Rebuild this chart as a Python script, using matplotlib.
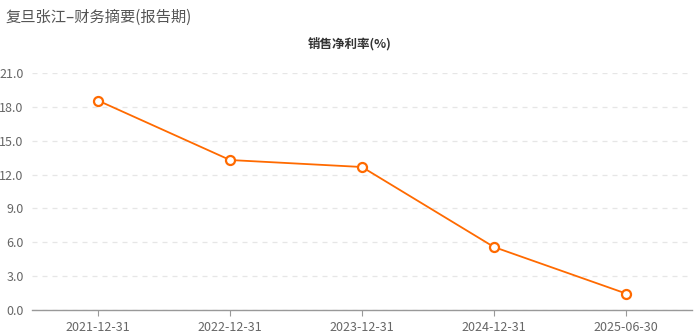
import matplotlib
matplotlib.use("Agg")
import matplotlib.pyplot as plt
from matplotlib.ticker import MultipleLocator, FormatStrFormatter

plt.rcParams['font.family'] = ['Noto Sans CJK SC', 'DejaVu Sans']

periods = ["2021-12-31", "2022-12-31", "2023-12-31", "2024-12-31", "2025-06-30"]
net_margin = [18.56, 13.29, 12.67, 5.58, 1.46]

fig = plt.figure(figsize=(7.0, 3.36), dpi=100)
ax = fig.add_axes([32 / 700, 26 / 336, 660 / 700, 237 / 336])

x = list(range(len(periods)))
ax.plot(x, net_margin, color="#ff6a00", linewidth=1.3, marker="o",
        markersize=6.5, markerfacecolor="white", markeredgecolor="#ff6a00",
        markeredgewidth=1.6, zorder=3)

ax.set_xlim(-0.5, len(periods) - 0.5)
ax.set_ylim(0, 21)
ax.yaxis.set_major_locator(MultipleLocator(3))
ax.yaxis.set_major_formatter(FormatStrFormatter("%.1f"))
ax.set_xticks(x)
ax.set_xticklabels(periods)

ax.grid(axis="y", color="#e6e6e6", linestyle=(0, (4, 4)), linewidth=0.9)
ax.set_axisbelow(True)
for side in ("top", "right", "left"):
    ax.spines[side].set_visible(False)
ax.spines["bottom"].set_color("#999999")
ax.spines["bottom"].set_linewidth(1.0)

ax.tick_params(axis="y", length=0, labelsize=9, labelcolor="#666666", pad=6)
ax.tick_params(axis="x", length=4, color="#999999", labelsize=9,
               labelcolor="#666666", pad=4)

fig.text(5 / 700, 1 - 17 / 336, "复旦张江–财务摘要(报告期)", fontsize=11,
         color="#555555", ha="left", va="center")
fig.text(350 / 700, 1 - 44 / 336, "销售净利率(%)", fontsize=9,
         fontweight="bold", color="#333333", ha="center", va="center")

fig.savefig("out.png", dpi=100)
